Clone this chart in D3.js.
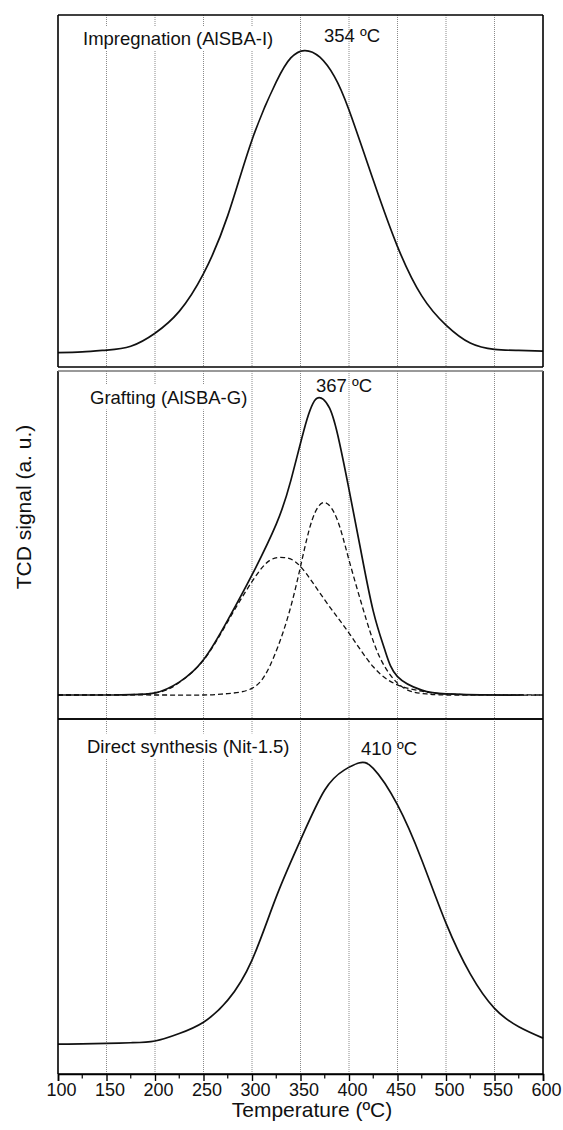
<!DOCTYPE html>
<html>
<head>
<meta charset="utf-8">
<script src="https://cdn.jsdelivr.net/npm/d3@7"></script>
<style>
  html, body { margin: 0; padding: 0; background: #fff; }
  svg { display: block; font-family: "Liberation Sans", Arial, Helvetica, sans-serif; }
</style>
</head>
<body>
<svg id="chart" width="563" height="1130"></svg>
<script>
// ---------- data ----------
const xTicks = [100, 150, 200, 250, 300, 350, 400, 450, 500, 550, 600];
const xMinorTicks = [125, 175, 225, 275, 325, 375, 425, 475, 525, 575];
const gridTemps = [150, 200, 250, 300, 350, 400, 450, 500, 550];

// Panel 1: Impregnation (AlSBA-I)
const impTemp = [100,125,150,175,200,225,250,275,300,325,340,354,370,385,400,425,450,475,500,525,550,575,600];
const impSignal = [4.1,4.3,4.8,5.9,9.6,15.8,26.5,43.0,64.5,81.0,87.8,89.9,88.0,82.5,73.0,53.1,34.2,20.2,11.9,6.8,5.0,4.7,4.5];

// Panel 2: Grafting (AlSBA-G) — measured signal and two fitted components
const grfTemp = [100,150,175,200,225,250,275,300,325,340,355,367,380,390,400,412,425,437,450,475,500,550,580];
const grfSignal = [6.9,6.9,7.0,7.5,10.6,17.0,28.4,41.4,56.0,68.5,84.5,92.2,89.3,79.6,66.0,48.7,31.0,19.8,12.2,8.3,7.2,6.9,6.9];
const grfLowTemp = [100,150,200,225,250,275,300,318,333,350,375,400,425,450,475,500,550,600];
const grfLowSignal = [6.9,6.9,7.5,10.5,16.9,28.0,39.5,45.5,46.4,43.8,34.2,24.7,15.0,9.8,8.0,7.2,6.9,6.9];
const grfHighTemp = [100,200,250,275,300,318,336,350,362,375,388,400,418,433,450,466,480,500,550,600];
const grfHighSignal = [6.9,6.9,6.9,7.3,8.8,15.0,28.4,43.8,57.2,62.2,57.2,45.7,28.4,17.0,10.3,7.8,7.2,6.9,6.9,6.9];

// Panel 3: Direct synthesis (Nit-1.5)
const dirTemp = [100,125,150,175,200,225,250,275,300,325,350,375,395,410,425,450,475,500,525,550,575,600];
const dirSignal = [8.4,8.5,8.6,8.8,9.3,11.4,14.6,20.8,32.1,49.9,65.9,80.0,85.6,87.6,86.1,75.8,60.3,42.5,28.2,18.5,13.3,10.1];

const panelNames = ["Impregnation (AlSBA-I)", "Grafting (AlSBA-G)", "Direct synthesis (Nit-1.5)"];
const peakLabels = ["354 ºC", "367 ºC", "410 ºC"];
const xTitle = "Temperature (ºC)";
const yTitle = "TCD signal (a. u.)";

// ---------- layout ----------
const svg = d3.select("#chart");
const left = 58, right = 543;
const x = d3.scaleLinear().domain([100, 600]).range([left, right]);

const panels = [
  { top: 15,  bottom: 367, topColor: "#000",
    series: [{t: impTemp, v: impSignal, dash: null}],
    name: panelNames[0], nameX: 83, nameY: 45,
    peak: peakLabels[0], peakX: 324, peakY: 42 },
  { top: 371, bottom: 719, topColor: "#777",
    series: [{t: grfLowTemp, v: grfLowSignal, dash: "5,3"},
             {t: grfHighTemp, v: grfHighSignal, dash: "5,3"},
             {t: grfTemp, v: grfSignal, dash: null}],
    name: panelNames[1], nameX: 90, nameY: 403.5,
    peak: peakLabels[1], peakX: 316, peakY: 392 },
  { top: 719, bottom: 1074, topColor: "#000",
    series: [{t: dirTemp, v: dirSignal, dash: null}],
    name: panelNames[2], nameX: 87, nameY: 752.5,
    peak: peakLabels[2], peakX: 361, peakY: 755 }
];

panels.forEach(p => {
  const y = d3.scaleLinear().domain([0, 100]).range([p.bottom, p.top]);
  const g = svg.append("g");

  // gridlines
  g.selectAll("line.grid").data(gridTemps).join("line")
    .attr("class", "grid")
    .attr("x1", d => x(d)).attr("x2", d => x(d))
    .attr("y1", p.top).attr("y2", p.bottom)
    .attr("stroke", "#8a8a8a").attr("stroke-width", 1)
    .attr("stroke-dasharray", "1,1");

  // panel name with white background
  const nm = g.append("text")
    .attr("x", p.nameX).attr("y", p.nameY)
    .attr("font-size", 18.5).attr("fill", "#111")
    .text(p.name);
  const bb = nm.node().getBBox();
  g.insert("rect", "text")
    .attr("x", bb.x - 2).attr("y", bb.y - 2)
    .attr("width", bb.width + 4).attr("height", bb.height + 4)
    .attr("fill", "#fff");

  // peak label
  g.append("text")
    .attr("x", p.peakX).attr("y", p.peakY)
    .attr("font-size", 18.5).attr("fill", "#111")
    .text(p.peak);

  // curves
  const line = d3.line().curve(d3.curveNatural)
    .x(d => x(d[0])).y(d => y(d[1]));
  p.series.forEach(s => {
    const pts = s.t.map((t, i) => [t, s.v[i]]);
    g.append("path")
      .datum(pts)
      .attr("d", line)
      .attr("fill", "none")
      .attr("stroke", "#111")
      .attr("stroke-width", s.dash ? 1.3 : 1.7)
      .attr("stroke-dasharray", s.dash);
  });

  // frame
  g.append("line").attr("x1", left).attr("x2", left).attr("y1", p.top).attr("y2", p.bottom)
    .attr("stroke", "#000").attr("stroke-width", 1.6);
  g.append("line").attr("x1", right).attr("x2", right).attr("y1", p.top).attr("y2", p.bottom)
    .attr("stroke", "#000").attr("stroke-width", 1.6);
  g.append("line").attr("x1", left).attr("x2", right).attr("y1", p.top).attr("y2", p.top)
    .attr("stroke", p.topColor).attr("stroke-width", 1.6);
  g.append("line").attr("x1", left).attr("x2", right).attr("y1", p.bottom).attr("y2", p.bottom)
    .attr("stroke", "#000").attr("stroke-width", 1.6);
});

// bottom axis
const axisG = svg.append("g").attr("transform", "translate(0,1074)");
axisG.call(d3.axisBottom(x).tickValues(xTicks).tickSize(7).tickFormat(d3.format("d")))
  .call(g => g.select(".domain").attr("stroke", "#000").attr("stroke-width", 1.6))
  .call(g => g.selectAll(".tick line").attr("stroke", "#000").attr("stroke-width", 1.4))
  .call(g => g.selectAll(".tick text")
      .attr("font-size", 18).attr("fill", "#111")
      .attr("font-family", "Liberation Sans, Arial, sans-serif")
      .attr("dx", 3).attr("y", 9));
axisG.selectAll("line.minor").data(xMinorTicks).join("line")
  .attr("class", "minor")
  .attr("x1", d => x(d)).attr("x2", d => x(d))
  .attr("y1", 0).attr("y2", 4.5)
  .attr("stroke", "#000").attr("stroke-width", 1.2);

// axis titles
svg.append("text")
  .attr("x", 312).attr("y", 1117)
  .attr("text-anchor", "middle")
  .attr("font-size", 21).attr("fill", "#111")
  .text(xTitle);

svg.append("text")
  .attr("transform", "translate(31,507) rotate(-90)")
  .attr("text-anchor", "middle")
  .attr("font-size", 21).attr("fill", "#111")
  .text(yTitle);
</script>
</body>
</html>
